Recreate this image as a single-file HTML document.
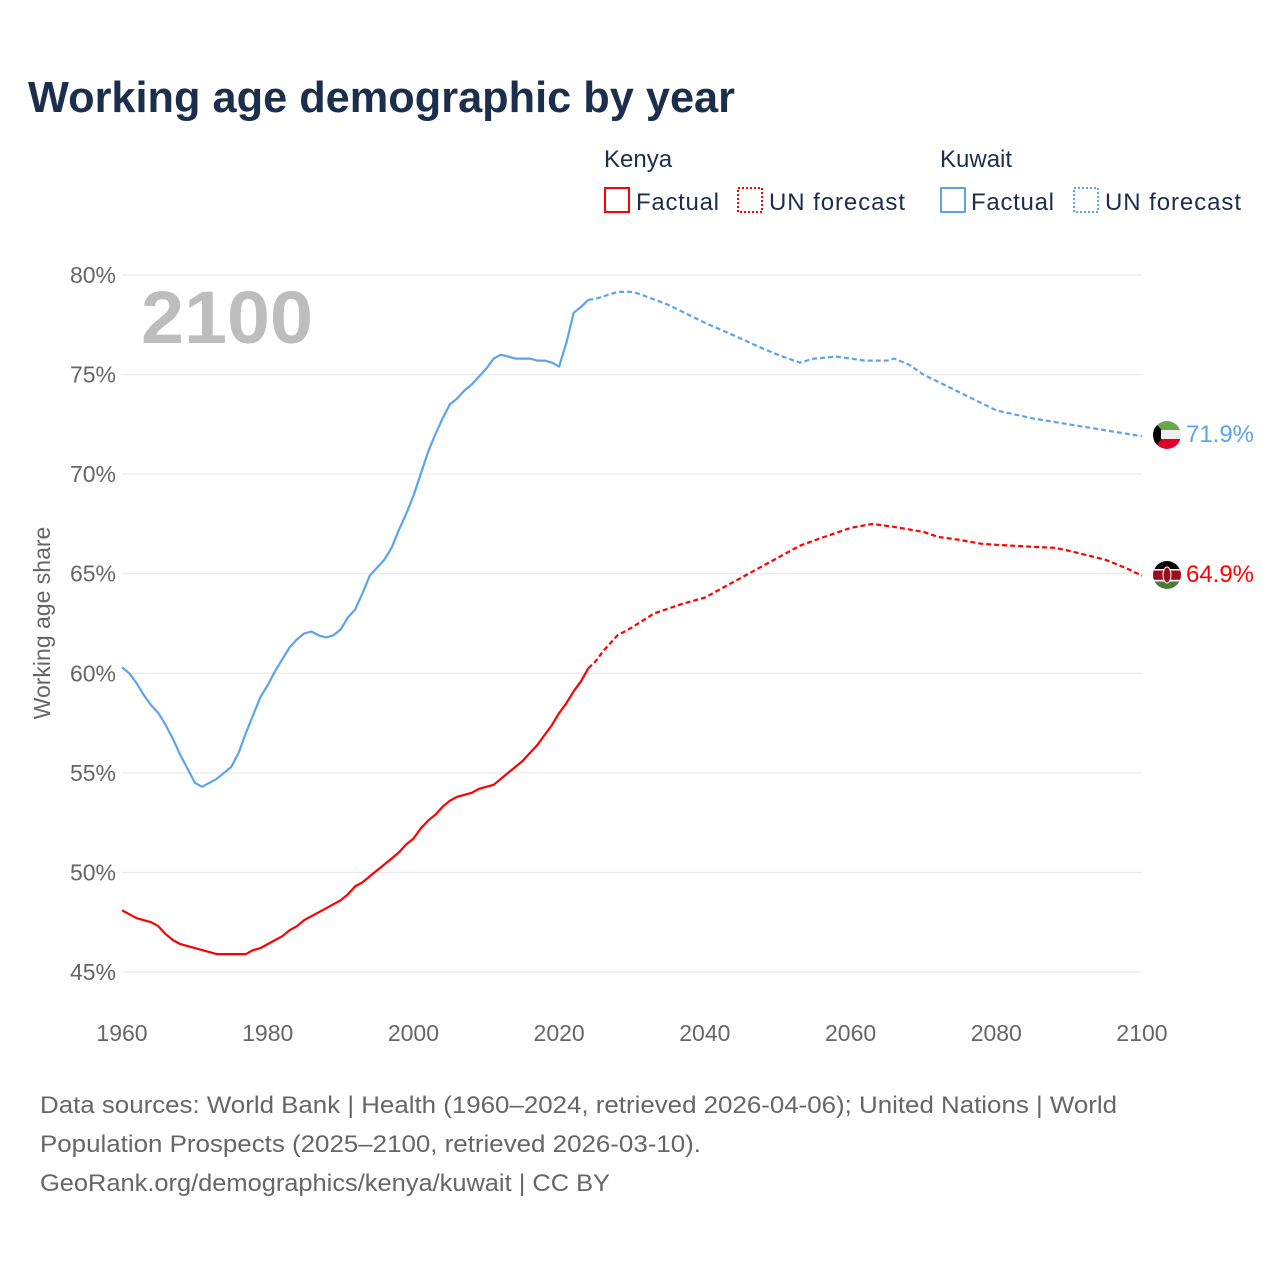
<!DOCTYPE html>
<html><head><meta charset="utf-8"><style>
body{margin:0;background:#fff;font-family:"Liberation Sans",sans-serif;}
svg text{font-family:"Liberation Sans",sans-serif;}
</style></head><body>
<svg id="chart" width="1280" height="1280" viewBox="0 0 1280 1280">
<text x="28" y="112" font-size="44" font-weight="bold" fill="#1b2f4d" textLength="707" lengthAdjust="spacingAndGlyphs">Working age demographic by year</text>
<g font-size="24" fill="#1b2f4d">
<text x="604" y="167">Kenya</text>
<text x="940" y="167">Kuwait</text>
<g><rect x="605" y="188" width="24" height="24" fill="none" stroke="#f00" stroke-width="2"/><text x="636" y="210" textLength="83">Factual</text></g>
<g><rect x="738" y="188" width="24" height="24" fill="none" stroke="#f00" stroke-width="2" stroke-dasharray="2,2"/><text x="769" y="210" textLength="136">UN forecast</text></g>
<g><rect x="941" y="188" width="24" height="24" fill="none" stroke="#5ba4ec" stroke-width="2"/><text x="971" y="210" textLength="83">Factual</text></g>
<g><rect x="1074" y="188" width="24" height="24" fill="none" stroke="#5ba4ec" stroke-width="2" stroke-dasharray="2,2"/><text x="1105" y="210" textLength="136">UN forecast</text></g>
</g>
<g id="grid"></g>
<text x="141" y="343" font-size="74" font-weight="bold" fill="#bdbdbd" textLength="172" lengthAdjust="spacingAndGlyphs">2100</text>
<text transform="translate(50,623) rotate(-90)" text-anchor="middle" font-size="23" fill="#666">Working age share</text>
<g id="series"></g>
<g>
<clipPath id="ck"><circle cx="1167" cy="435" r="14"/></clipPath>
<g clip-path="url(#ck)"><rect x="1153" y="421" width="28" height="10" fill="#6aa84f"/><rect x="1153" y="430" width="28" height="10" fill="#eee"/><rect x="1153" y="439" width="28" height="10" fill="#e0002a"/><polygon points="1153,421 1161,429 1161,440 1153,449" fill="#000"/></g></g>
<g>
<clipPath id="cke"><circle cx="1167" cy="575" r="14"/></clipPath>
<g clip-path="url(#cke)"><rect x="1153" y="561" width="28" height="10" fill="#000"/><rect x="1153" y="570" width="28" height="10" fill="#9b0d1c"/><rect x="1153" y="579" width="28" height="10" fill="#4a7a3a"/><rect x="1153" y="569" width="28" height="1.5" fill="#fff"/><rect x="1153" y="580" width="28" height="1.5" fill="#fff"/><ellipse cx="1167" cy="575" rx="4" ry="8" fill="#9b0d1c" stroke="#fff" stroke-width="1"/></g></g>
<text x="1186" y="442" font-size="24" fill="#5ba4ec" textLength="68">71.9%</text>
<text x="1186" y="582" font-size="24" fill="#f00" textLength="68">64.9%</text>
<g font-size="24" fill="#666">
<text x="40" y="1113" textLength="1077" lengthAdjust="spacingAndGlyphs">Data sources: World Bank | Health (1960–2024, retrieved 2026-04-06); United Nations | World</text>
<text x="40" y="1152" textLength="661" lengthAdjust="spacingAndGlyphs">Population Prospects (2025–2100, retrieved 2026-03-10).</text>
<text x="40" y="1191" textLength="570" lengthAdjust="spacingAndGlyphs">GeoRank.org/demographics/kenya/kuwait | CC BY</text>
</g>
</svg>
<script>
const yTicks=[45,50,55,60,65,70,75,80];
const xTicks=[1960,1980,2000,2020,2040,2060,2080,2100];
const kuwaitYears=[1960,1961,1962,1963,1964,1965,1966,1967,1968,1969,1970,1971,1972,1973,1974,1975,1976,1977,1978,1979,1980,1981,1982,1983,1984,1985,1986,1987,1988,1989,1990,1991,1992,1993,1994,1995,1996,1997,1998,1999,2000,2001,2002,2003,2004,2005,2006,2007,2008,2009,2010,2011,2012,2013,2014,2015,2016,2017,2018,2019,2020,2021,2022,2023,2024];
const kuwaitFactual=[60.3,60.0,59.5,58.9,58.4,58.0,57.4,56.7,55.9,55.2,54.5,54.3,54.5,54.7,55.0,55.3,56.0,57.0,57.9,58.8,59.4,60.1,60.7,61.3,61.7,62.0,62.1,61.9,61.8,61.9,62.2,62.8,63.2,64.0,64.9,65.3,65.7,66.3,67.2,68.0,68.9,70.0,71.1,72.0,72.8,73.5,73.8,74.2,74.5,74.9,75.3,75.8,76.0,75.9,75.8,75.8,75.8,75.7,75.7,75.6,75.4,76.6,78.1,78.4,78.75];
const kuwaitForecastYears=[2024,2025,2028,2030,2031,2035,2040,2045,2048,2050,2053,2055,2058,2060,2062,2065,2066,2068,2070,2075,2080,2085,2090,2095,2100];
const kuwaitForecast=[78.75,78.8,79.15,79.15,79.05,78.5,77.6,76.8,76.3,76.0,75.6,75.8,75.9,75.8,75.7,75.7,75.8,75.5,75.0,74.1,73.2,72.8,72.5,72.2,71.9];
const kenyaYears=kuwaitYears;
const kenyaFactual=[48.1,47.9,47.7,47.6,47.5,47.3,46.9,46.6,46.4,46.3,46.2,46.1,46.0,45.9,45.9,45.9,45.9,45.9,46.1,46.2,46.4,46.6,46.8,47.1,47.3,47.6,47.8,48.0,48.2,48.4,48.6,48.9,49.3,49.5,49.8,50.1,50.4,50.7,51.0,51.4,51.7,52.2,52.6,52.9,53.3,53.6,53.8,53.9,54.0,54.2,54.3,54.4,54.7,55.0,55.3,55.6,56.0,56.4,56.9,57.4,58.0,58.5,59.1,59.6,60.25];
const kenyaForecastYears=[2024,2025,2026,2028,2030,2033,2037,2040,2045,2050,2053,2056,2060,2063,2066,2070,2072,2075,2078,2080,2085,2088,2090,2095,2098,2100];
const kenyaForecast=[60.25,60.6,61.1,61.9,62.3,63.0,63.5,63.8,64.8,65.8,66.4,66.8,67.3,67.5,67.35,67.1,66.85,66.7,66.5,66.45,66.35,66.3,66.15,65.7,65.25,64.9];

const X0=122,X1=1142,Y80=275,Y45=972;
function xs(yr){return X0+(yr-1960)*(X1-X0)/140;}
function ys(v){return Y80+(80-v)*(Y45-Y80)/35;}
const NS="http://www.w3.org/2000/svg";
const grid=document.getElementById('grid');
yTicks.forEach(t=>{
  const l=document.createElementNS(NS,'line');
  l.setAttribute('x1',X0);l.setAttribute('x2',X1);
  l.setAttribute('y1',ys(t));l.setAttribute('y2',ys(t));
  l.setAttribute('stroke','#e6e6e6');l.setAttribute('stroke-width','1');
  
  
  grid.appendChild(l);
  const tx=document.createElementNS(NS,'text');
  tx.setAttribute('x',116);tx.setAttribute('y',ys(t)+8);
  tx.setAttribute('text-anchor','end');tx.setAttribute('font-size','23');tx.setAttribute('fill','#666');
  tx.textContent=t+'%';
  
  
  grid.appendChild(tx);
});
xTicks.forEach(t=>{
  const tx=document.createElementNS(NS,'text');
  tx.setAttribute('x',xs(t));tx.setAttribute('y',1041);
  tx.setAttribute('text-anchor','middle');tx.setAttribute('font-size','23');tx.setAttribute('fill','#666');
  tx.textContent=t;
  
  
  grid.appendChild(tx);
});
const series=document.getElementById('series');
function line(yrs,vals,color,dash,name){
  const p=document.createElementNS(NS,'path');
  p.setAttribute('d',yrs.map((y,i)=>(i?'L':'M')+xs(y).toFixed(1)+','+ys(vals[i]).toFixed(1)).join(' '));
  p.setAttribute('fill','none');p.setAttribute('stroke',color);p.setAttribute('stroke-width','2.2');
  p.setAttribute('stroke-linejoin','round');
  if(dash)p.setAttribute('stroke-dasharray','5,3');
  
  
  series.appendChild(p);
}
line(kuwaitYears,kuwaitFactual,'#5ba4ec',false,'kuwait-factual-line');
line(kuwaitForecastYears,kuwaitForecast,'#5ba4ec',true,'kuwait-forecast-line');
line(kenyaYears,kenyaFactual,'#ff0000',false,'kenya-factual-line');
line(kenyaForecastYears,kenyaForecast,'#ff0000',true,'kenya-forecast-line');
</script>
</body></html>
